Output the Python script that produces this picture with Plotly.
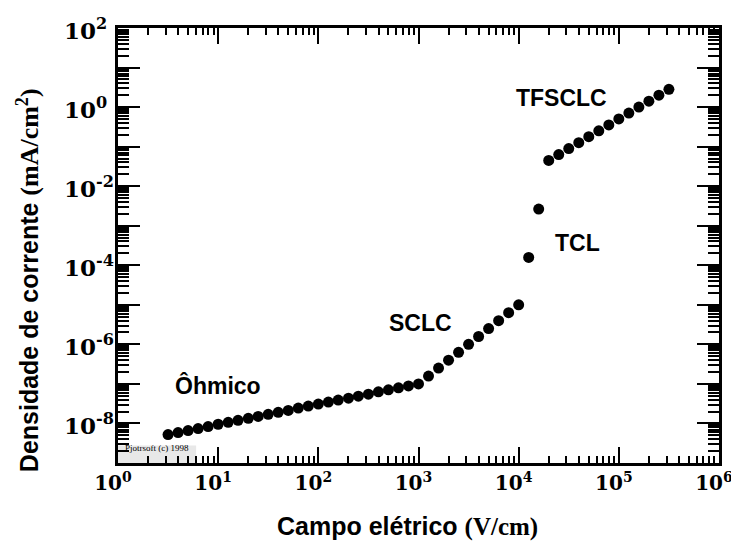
import plotly.graph_objects as go

# ---- data ----
ohm_x = [3.16, 3.98, 5.01, 6.31, 7.94, 10.0, 12.6, 15.8, 20.0, 25.1, 31.6, 39.8, 50.1,
         63.1, 79.4, 100.0, 126, 158, 200, 251, 316, 398, 501, 631, 794, 1000]
ohm_y = [5.25e-9, 5.89e-9, 6.61e-9, 7.41e-9, 8.32e-9, 9.55e-9, 1.07e-8, 1.20e-8, 1.35e-8,
         1.51e-8, 1.70e-8, 1.91e-8, 2.14e-8, 2.45e-8, 2.75e-8, 3.09e-8, 3.47e-8, 3.89e-8,
         4.37e-8, 4.90e-8, 5.50e-8, 6.31e-8, 7.08e-8, 7.94e-8, 8.91e-8, 1.0e-7]
sclc_x = [1259, 1585, 1995, 2512, 3162, 3981, 5012, 6310, 7943, 10000]
sclc_y = [1.58e-7, 2.51e-7, 3.98e-7, 6.31e-7, 1.0e-6, 1.58e-6, 2.51e-6, 3.98e-6, 6.31e-6, 1.0e-5]
tcl_x = [12590, 15850]
tcl_y = [1.58e-4, 2.63e-3]
tfs_x = [19950, 25120, 31620, 39810, 50120, 63100, 79430, 100000, 125900, 158500,
         199500, 251200, 316200]
tfs_y = [0.0447, 0.0631, 0.0891, 0.126, 0.178, 0.251, 0.355, 0.501, 0.708, 1.0,
         1.41, 2.0, 2.82]

x_exps = [0, 1, 2, 3, 4, 5, 6]
y_exps = [2, 1, 0, -1, -2, -3, -4, -5, -6, -7, -8, -9]
y_labeled = [2, 0, -2, -4, -6, -8]

region_labels = ["Ôhmico", "SCLC", "TCL", "TFSCLC"]
region_lx = [1.0, 3.02, 4.59, 4.43]      # log10 positions
region_ly = [-7.05, -5.47, -3.44, 0.23]

x_title = "Campo elétrico <span style='font-family:\"Liberation Serif\"'>(V/cm)</span>"
y_title = ("Densidade de corrente <span style='font-family:\"Liberation Serif\"; "
           "font-size:26px'>(mA/cm<sup>2</sup>)</span>")

# ---- build figure ----
xs = ohm_x + sclc_x + tcl_x + tfs_x
ys = ohm_y + sclc_y + tcl_y + tfs_y

fig = go.Figure()
fig.add_trace(go.Scatter(x=xs, y=ys, mode="markers",
                         marker=dict(size=11, color="black"),
                         showlegend=False, hoverinfo="skip"))

tick_font = dict(family="DejaVu Serif", size=20, color="black", weight="bold")

x_tickvals = [10 ** e for e in x_exps]
x_ticktext = ["10<sup>%d</sup>" % e for e in x_exps]
y_tickvals = [10.0 ** e for e in y_exps]

x_minor = [k * 10.0 ** e for e in range(0, 6) for k in range(2, 10)]
y_minor = [k * 10.0 ** e for e in range(-9, 2) for k in range(2, 10)]

fig.update_xaxes(type="log", range=[0, 6], automargin=False,
                 tickmode="array", tickvals=x_tickvals, ticktext=x_ticktext,
                 ticklabeloverflow="allow", ticklabelshift=-5,
                 ticks="inside", ticklen=16, tickwidth=2, tickcolor="black",
                 minor=dict(tickmode="array", tickvals=x_minor, ticks="inside",
                            ticklen=7, tickwidth=1.5, tickcolor="black", showgrid=False),
                 showline=True, linewidth=3, linecolor="black", mirror="ticks",
                 showgrid=False, zeroline=False, tickfont=tick_font)
fig.update_yaxes(type="log", range=[-9, 2], automargin=False,
                 tickmode="array", tickvals=y_tickvals, showticklabels=False,
                 ticks="inside", ticklen=22, tickwidth=2, tickcolor="black",
                 minor=dict(tickmode="array", tickvals=y_minor, ticks="inside",
                            ticklen=11, tickwidth=1.5, tickcolor="black", showgrid=False),
                 showline=True, linewidth=3, linecolor="black", mirror="ticks",
                 showgrid=False, zeroline=False)

# y tick labels (left aligned, as in the reference)
for e in y_labeled:
    fig.add_annotation(x=-0.093, y=e, xref="paper", yref="y", xanchor="left",
                       yanchor="middle", yshift=-1, showarrow=False,
                       text="10<sup>%d</sup>" % e,
                       font=dict(family="DejaVu Serif", size=23, color="black", weight="bold"))

# axis titles
fig.add_annotation(x=0.4817, y=-0.147, xref="paper", yref="paper", xanchor="center",
                   yanchor="middle", showarrow=False, text=x_title,
                   font=dict(family="Liberation Sans", size=25, color="black", weight="bold"))
fig.add_annotation(x=-0.150, y=0.42, xref="paper", yref="paper", xanchor="center",
                   yanchor="middle", textangle=-90, showarrow=False, text=y_title,
                   font=dict(family="Liberation Sans", size=25, color="black", weight="bold"))

for t, lx, ly in zip(region_labels, region_lx, region_ly):
    fig.add_annotation(x=lx, y=ly, xref="x", yref="y", text=t, showarrow=False,
                       font=dict(family="Liberation Sans", size=23, color="black", weight="bold"))

# watermark
fig.add_shape(type="rect", xref="paper", yref="paper", x0=0, x1=0.13, y0=0, y1=0.04,
              fillcolor="#e8e8e8", line=dict(width=0), layer="below")
fig.add_annotation(x=0.008, y=0.035, xref="paper", yref="paper", xanchor="left",
                   yanchor="middle", text="Pjotrsoft (c) 1998", showarrow=False,
                   font=dict(family="Liberation Serif", size=9, color="black"))

# page has an 8px body margin: compensate so the plot lands where the reference has it
fig.update_layout(width=731, height=533, margin=dict(l=110, r=20, t=20, b=78),
                  paper_bgcolor="white", plot_bgcolor="white")

fig.write_html("out.html")
